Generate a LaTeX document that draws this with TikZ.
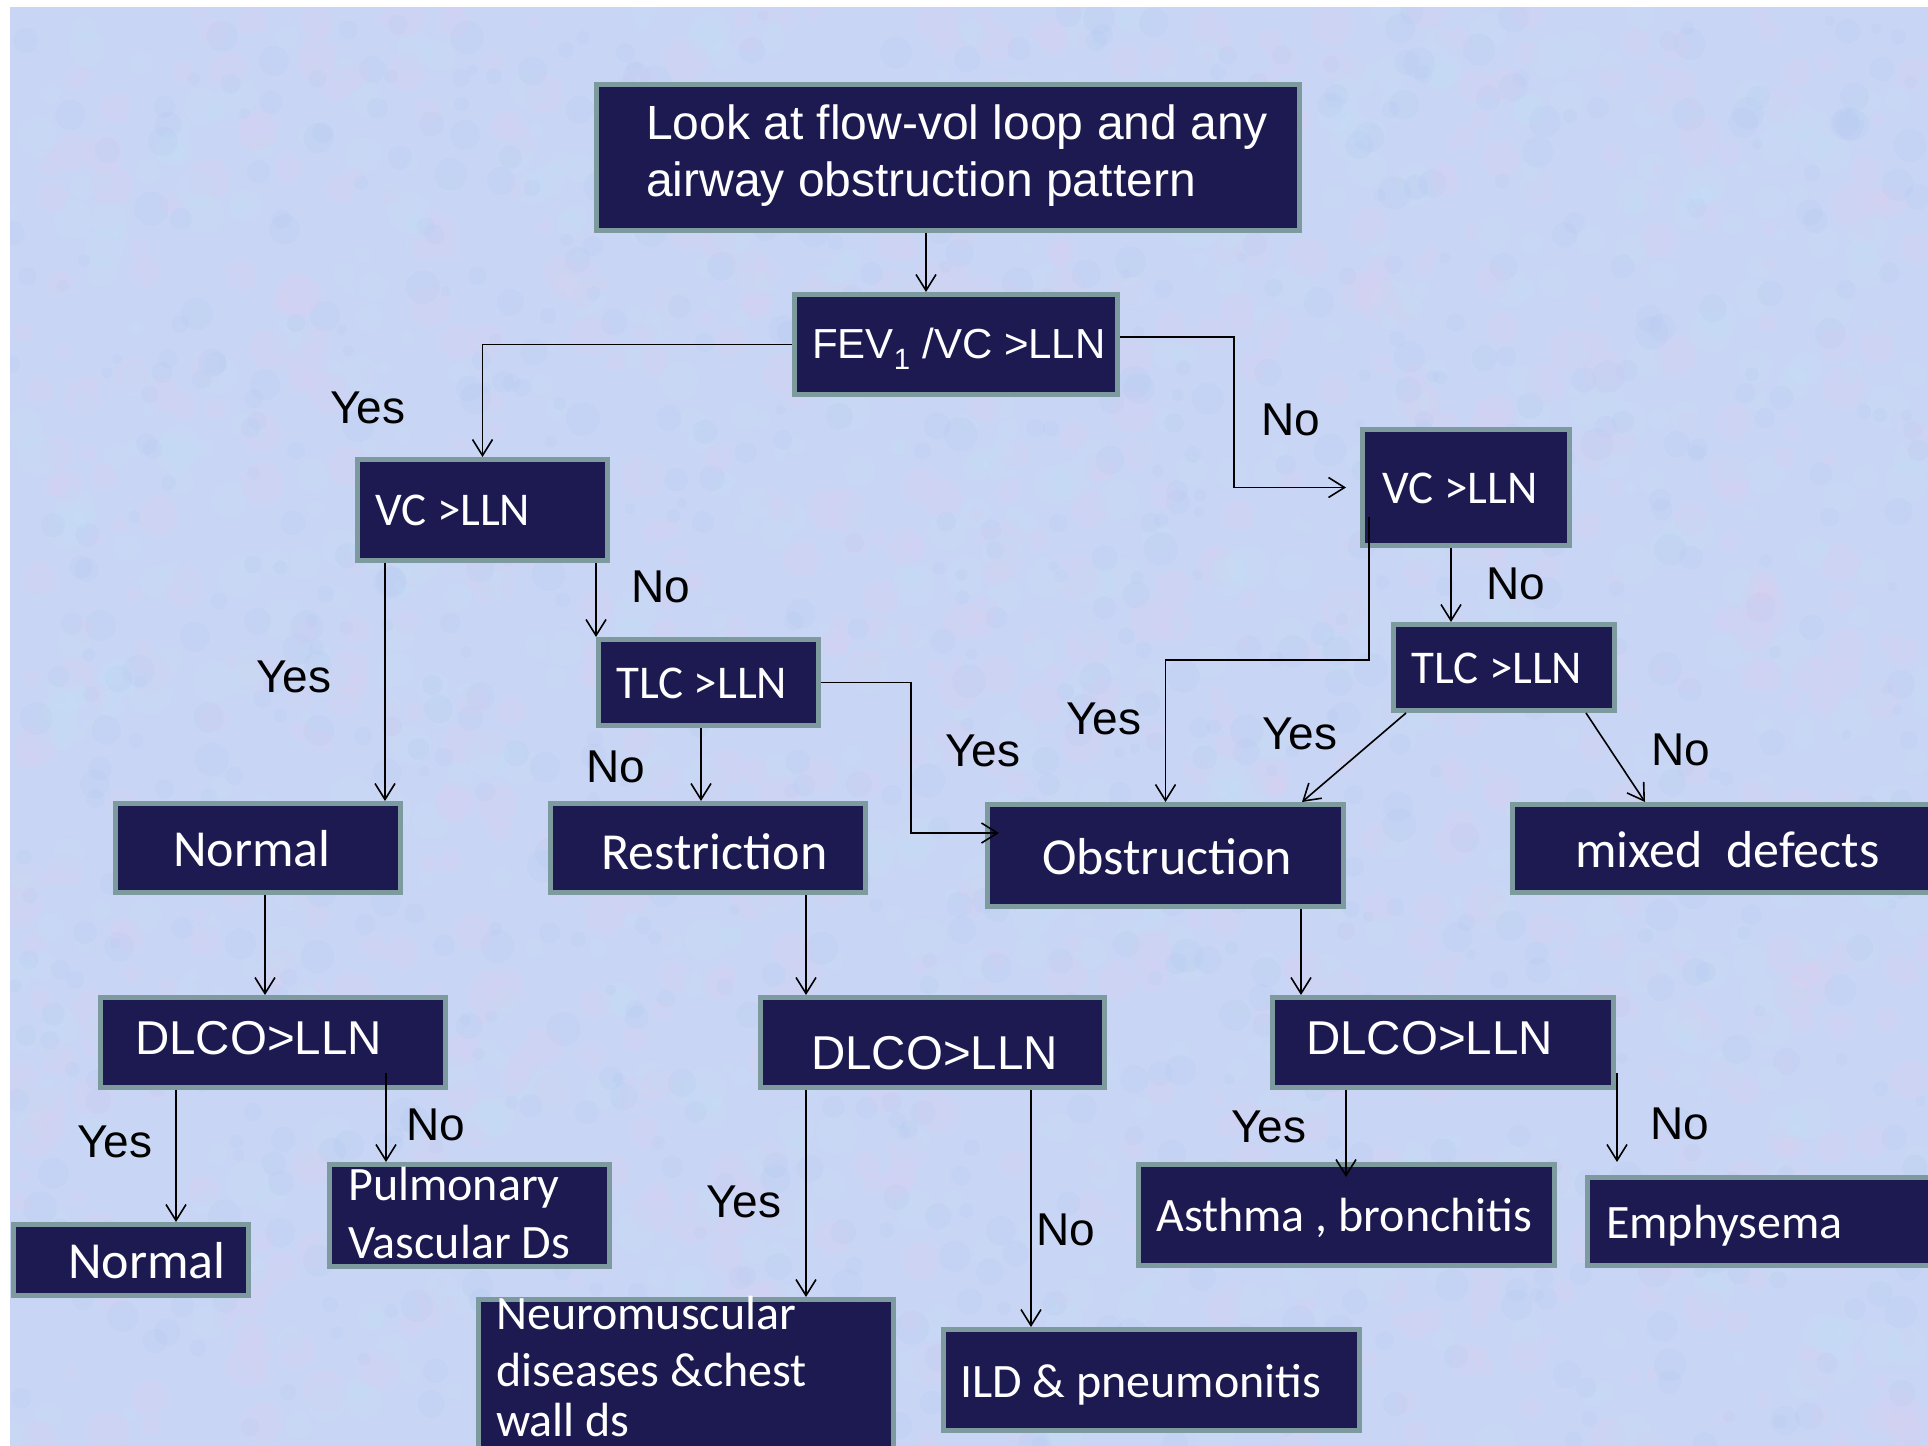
\documentclass[tikz,border=0pt]{standalone}
\usepackage{fontspec}
\newfontfamily\arialf{Liberation Sans}
\newfontfamily\calf{Carlito}
\usetikzlibrary{arrows.meta}
\definecolor{navy}{RGB}{28,26,80}
\definecolor{bcol}{RGB}{125,155,158}
\definecolor{bgc}{RGB}{200,213,244}
\definecolor{texp}{RGB}{232,205,240}
\definecolor{texc}{RGB}{195,232,250}
\definecolor{texb}{RGB}{165,192,242}
\begin{document}
\begin{tikzpicture}[x=1pt,y=-1pt,
  box/.style={draw=bcol,line width=5pt,fill=navy,inner sep=0pt,outer sep=2.5pt,rectangle},
  bx/.style 2 args={box,minimum width=#1pt,minimum height=#2pt},
  wa/.style={text=white,inner sep=0pt,anchor=base west,font=\arialf\fontsize{#1}{#1}\selectfont},
  wc/.style={text=white,inner sep=0pt,anchor=base west,font=\calf\fontsize{#1}{#1}\selectfont},
  lab/.style={text=black,inner sep=0pt,font=\arialf\fontsize{46}{46}\selectfont},
  arr/.style={draw=black,line width=1.6pt,-{Straight Barb[length=16pt,width=20pt]}}]
\useasboundingbox (0,0) rectangle (1928,1446);
% background
\fill[white] (0,0) rectangle (1928,1446);
\fill[bgc] (10,7) rectangle (1928,1446);
\begin{scope}
\clip (10,7) rectangle (1928,1446);
\pgfmathsetseed{11}
\foreach \i in {1,...,900}{
  \pgfmathsetmacro{\px}{10+rnd*1918}\pgfmathsetmacro{\py}{7+rnd*1439}\pgfmathsetmacro{\pr}{6+rnd*16}
  \fill[texp,opacity=0.14] (\px,\py) circle[radius=\pr pt];}
\foreach \i in {1,...,900}{
  \pgfmathsetmacro{\px}{10+rnd*1918}\pgfmathsetmacro{\py}{7+rnd*1439}\pgfmathsetmacro{\pr}{6+rnd*16}
  \fill[texc,opacity=0.12] (\px,\py) circle[radius=\pr pt];}
\foreach \i in {1,...,900}{
  \pgfmathsetmacro{\px}{10+rnd*1918}\pgfmathsetmacro{\py}{7+rnd*1439}\pgfmathsetmacro{\pr}{5+rnd*12}
  \fill[texb,opacity=0.10] (\px,\py) circle[radius=\pr pt];}
\end{scope}

% boxes
\node[bx={703}{146}] (top) at (948,157.5) {};
\node[bx={323}{100}] (fev) at (956,344.5) {};
\node[bx={250}{101}] (vcl) at (482.5,510) {};
\node[bx={207}{116}] (vcr) at (1466,487.5) {};
\node[bx={220}{86}] (tlcl) at (708.5,682.5) {};
\node[bx={221}{86}] (tlcr) at (1504,667.5) {};
\node[bx={285}{89}] (norm1) at (258,848) {};
\node[bx={315}{89}] (restr) at (708,848) {};
\node[bx={356}{102}] (obst) at (1165.5,855.5) {};
\node[bx={425}{88}] (mixed) at (1725,848.5) {};
\node[bx={345}{90}] (dlcol) at (273,1042.5) {};
\node[bx={344}{90}] (dlcom) at (932.5,1042.5) {};
\node[bx={341}{90}] (dlcor) at (1443,1042.5) {};
\node[bx={235}{71}] (norm2) at (131,1260) {};
\node[bx={280}{102}] (pulm) at (469.5,1215.5) {};
\node[bx={415}{168}] (neuro) at (686,1383.5) {};
\node[bx={416}{101}] (ild) at (1151.5,1380) {};
\node[bx={416}{101}] (asthma) at (1346.5,1215) {};
\node[bx={350}{88}] (emph) at (1762.5,1221.5) {};

% box texts
\node[wa=48] (t-top1) at (646,139) {Look at flow-vol loop and any};
\node[wa=48] (t-top2) at (646,196) {airway obstruction pattern};
\node[wa=42] (t-fev) at (812,358) {FEV\textsubscript{1} /VC >LLN};
\node[wc=47] (t-vcl) at (375,525) {VC >LLN};
\node[wc=47] (t-vcr) at (1382,503) {VC >LLN};
\node[wc=47] (t-tlcl) at (616,698) {TLC >LLN};
\node[wc=47] (t-tlcr) at (1411,683) {TLC >LLN};
\node[wc=52] (t-norm1) at (173,866) {Normal};
\node[wc=52] (t-restr) at (601,869) {Restriction};
\node[wc=52] (t-obst) at (1042,874) {Obstruction};
\node[wc=52] (t-mixed) at (1575,867) {mixed\ \ defects};
\node[wa=47.5] (t-dlcol) at (135,1054) {DLCO>LLN};
\node[wa=47.5] (t-dlcom) at (811,1069) {DLCO>LLN};
\node[wa=47.5] (t-dlcor) at (1306,1054) {DLCO>LLN};
\node[wc=52] (t-norm2) at (68,1278) {Normal};
\node[wc=48] (t-pulm1) at (348,1200) {Pulmonary};
\node[wc=48] (t-pulm2) at (348,1258) {Vascular Ds};
\node[wc=48] (t-neuro1) at (496,1329) {Neuromuscular};
\node[wc=48] (t-neuro2) at (496,1386) {diseases \&chest};
\node[wc=48] (t-neuro3) at (496,1436) {wall ds};
\node[wc=48] (t-ild) at (960,1397) {ILD \& pneumonitis};
\node[wc=48] (t-asthma) at (1156,1231) {Asthma , bronchitis};
\node[wc=48] (t-emph) at (1606,1238) {Emphysema};

% labels
\node[lab] (l-yes1) at (368,408) {Yes};
\node[lab] (l-no1) at (1291,420) {No};
\node[lab] (l-no2) at (661,587) {No};
\node[lab] (l-yes2) at (294,677) {Yes};
\node[lab] (l-no3) at (1516,584) {No};
\node[lab] (l-yes3) at (1104,719) {Yes};
\node[lab] (l-yes4) at (983,751) {Yes};
\node[lab] (l-yes5) at (1300,734) {Yes};
\node[lab] (l-no4) at (1681,750) {No};
\node[lab] (l-no5) at (616,767) {No};
\node[lab] (l-yes6) at (115,1142) {Yes};
\node[lab] (l-no6) at (436,1125) {No};
\node[lab] (l-yes7) at (744,1202) {Yes};
\node[lab] (l-no7) at (1066,1230) {No};
\node[lab] (l-yes8) at (1269,1127) {Yes};
\node[lab] (l-no8) at (1680,1124) {No};

% connectors
\coordinate (a1) at ([xshift=-22pt]top.south);
\coordinate (a2) at ([xshift=-30pt]fev.north);
\draw[arr] (a1) -- (a2);
\draw[arr] (fev.west) -| (vcl.north);
\coordinate (b1) at ([yshift=7.5pt]fev.east);
\coordinate (b2) at ([xshift=-14pt]vcr.west);
\draw[arr] (b1) -- ++(114,0) |- (b2);
\coordinate (c1) at ([xshift=-97.5pt]vcl.south);
\draw[arr] (c1) -- (c1 |- norm1.north);
\coordinate (c2) at ([xshift=113.5pt]vcl.south);
\draw[arr] (c2) -- (c2 |- tlcl.north);
\coordinate (c3) at ([xshift=-7.5pt]tlcl.south);
\draw[arr] (c3) -- (c3 |- restr.north);
\coordinate (c4) at ([xshift=14pt,yshift=22.5pt]obst.west);
\draw[arr] (tlcl.east) -- ++(90,0) |- (c4);
\coordinate (c5) at ([xshift=9pt,yshift=-29.5pt]vcr.west);
\draw[arr] (c5) -- ++(0,143) -| (obst.north);
\coordinate (c7) at ([xshift=-15pt]vcr.south);
\draw[arr] (c7) -- (c7 |- tlcr.north);
\draw[arr] ([xshift=-98pt]tlcr.south) -- ([xshift=136.5pt]obst.north);
\draw[arr] ([xshift=82pt]tlcr.south) -- ([xshift=-80pt]mixed.north);
\coordinate (d1) at ([xshift=7pt]norm1.south);
\draw[arr] (d1) -- (d1 |- dlcol.north);
\coordinate (d2) at ([xshift=98pt]restr.south);
\draw[arr] (d2) -- (d2 |- dlcom.north);
\coordinate (d3) at ([xshift=135.5pt]obst.south);
\draw[arr] (d3) -- (d3 |- dlcor.north);
\coordinate (e1) at ([xshift=-97pt]dlcol.south);
\draw[arr] (e1) -- (e1 |- norm2.north);
\coordinate (e2) at ([xshift=113pt,yshift=17pt]dlcol.south);
\draw[arr] (e2) -- (e2 |- pulm.north);
\coordinate (e3) at ([xshift=-126.5pt]dlcom.south);
\draw[arr] (e3) -- (e3 |- neuro.north);
\coordinate (e4) at ([xshift=98.5pt]dlcom.south);
\draw[arr] (e4) -- (e4 |- ild.north);
\coordinate (e5) at ([xshift=-97pt]dlcor.south);
\coordinate (e5t) at (e5 |- asthma.north);
\draw[arr] (e5) -- ([yshift=-15pt]e5t);
\coordinate (e6) at ([xshift=1pt,yshift=-30.5pt]dlcor.east);
\coordinate (e6t) at ([xshift=-145.5pt,yshift=13pt]emph.north);
\draw[arr] (e6) -- (e6t);
\end{tikzpicture}
\end{document}
